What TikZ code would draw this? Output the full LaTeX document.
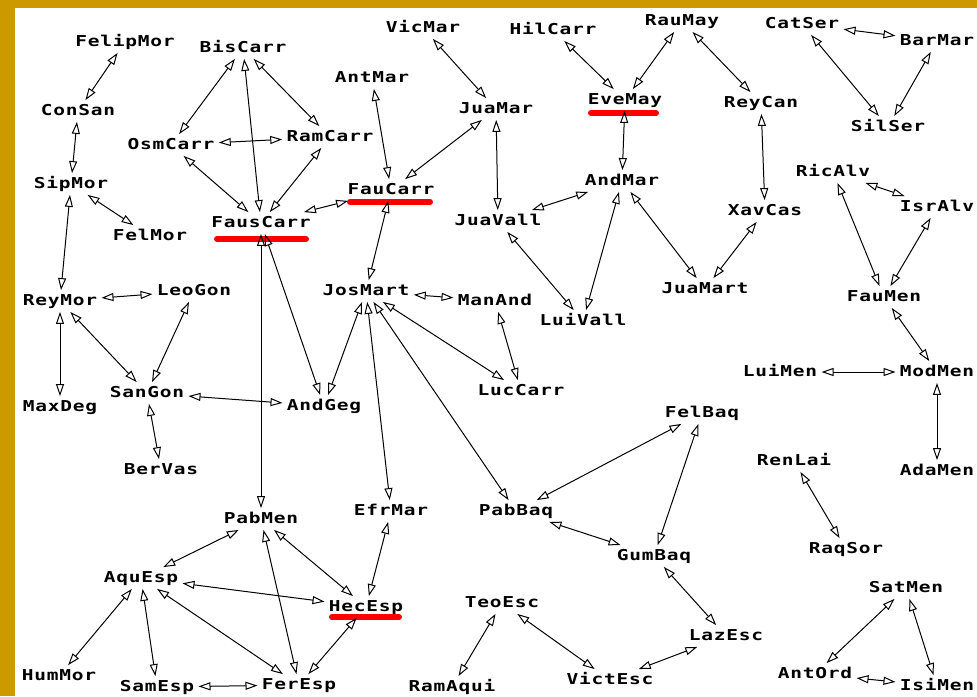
\documentclass[tikz,border=0pt]{standalone}
\usepackage{fontspec}
\usepackage{tikz}
\usetikzlibrary{arrows.meta,calc}
\newfontfamily\pixfont[FakeStretch=1.3,LetterSpace=5]{DejaVu Sans Mono Bold}
\definecolor{framegold}{RGB}{204,153,0}
\definecolor{markred}{RGB}{250,0,0}
\tikzset{
  person/.style={font=\pixfont\fontsize{7.5}{9}\selectfont,inner sep=2pt,
    text height=5.5pt,text depth=1pt},
  link/.style={{Triangle[open,length=6pt,width=4pt]}-{Triangle[open,length=6pt,width=4pt]},
    line width=0.5pt,draw=black},
  redbar/.style={draw=markred,line width=3pt,line cap=round}
}

\begin{document}
\begin{tikzpicture}[x=0.5pt,y=-0.5pt]
  \useasboundingbox (0,0) rectangle (977,696);
  \fill[framegold] (0,0) rectangle (977,696);
  \fill[white] (15,8) rectangle (977,696);

  \node[person] (FelipMor) at (125,42) {FelipMor};
  \node[person] (BisCarr) at (243,48) {BisCarr};
  \node[person] (ConSan) at (78,111) {ConSan};
  \node[person] (OsmCarr) at (171,145) {OsmCarr};
  \node[person] (RamCarr) at (330,137) {RamCarr};
  \node[person] (SipMor) at (71,184) {SipMor};
  \node[person] (FelMor) at (150,236) {FelMor};
  \node[person] (FausCarr) at (261,223) {FausCarr};
  \node[person] (AntMar) at (372,78) {AntMar};
  \node[person] (VicMar) at (423,28) {VicMar};
  \node[person] (JuaMar) at (496,109) {JuaMar};
  \node[person] (FauCarr) at (391,190) {FauCarr};
  \node[person] (HilCarr) at (553,30) {HilCarr};
  \node[person] (EveMay) at (625,100) {EveMay};
  \node[person] (RauMay) at (682,21) {RauMay};
  \node[person] (ReyCan) at (761,103) {ReyCan};
  \node[person] (CatSer) at (802,24) {CatSer};
  \node[person] (BarMar) at (937,41) {BarMar};
  \node[person] (SilSer) at (888,127) {SilSer};
  \node[person] (AndMar) at (622,181) {AndMar};
  \node[person] (JuaVall) at (498,221) {JuaVall};
  \node[person] (XavCas) at (765,211) {XavCas};
  \node[person] (RicAlv) at (833,172) {RicAlv};
  \node[person] (IsrAlv) at (937,207) {IsrAlv};
  \node[person] (JuaMart) at (705,289) {JuaMart};
  \node[person] (FauMen) at (884,297) {FauMen};
  \node[person] (LuiVall) at (583,321) {LuiVall};
  \node[person] (JosMart) at (366,291) {JosMart};
  \node[person] (ManAnd) at (495,301) {ManAnd};
  \node[person] (ReyMor) at (60,301) {ReyMor};
  \node[person] (LeoGon) at (194,291) {LeoGon};
  \node[person] (SanGon) at (147,393) {SanGon};
  \node[person] (MaxDeg) at (60,407) {MaxDeg};
  \node[person] (AndGeg) at (324,406) {AndGeg};
  \node[person] (LucCarr) at (521,391) {LucCarr};
  \node[person] (LuiMen) at (780,372) {LuiMen};
  \node[person] (ModMen) at (937,372) {ModMen};
  \node[person] (BerVas) at (161,470) {BerVas};
  \node[person] (FelBaq) at (702,413) {FelBaq};
  \node[person] (RenLai) at (794,461) {RenLai};
  \node[person] (AdaMen) at (937,471) {AdaMen};
  \node[person] (PabMen) at (261,519) {PabMen};
  \node[person] (EfrMar) at (391,511) {EfrMar};
  \node[person] (PabBaq) at (516,511) {PabBaq};
  \node[person] (GumBaq) at (654,556) {GumBaq};
  \node[person] (RaqSor) at (846,549) {RaqSor};
  \node[person] (AquEsp) at (141,578) {AquEsp};
  \node[person] (HecEsp) at (366,607) {HecEsp};
  \node[person] (TeoEsc) at (502,603) {TeoEsc};
  \node[person] (SatMen) at (906,588) {SatMen};
  \node[person] (LazEsc) at (726,636) {LazEsc};
  \node[person] (HumMor) at (59,676) {HumMor};
  \node[person] (SamEsp) at (157,687) {SamEsp};
  \node[person] (FerEsp) at (299,685) {FerEsp};
  \node[person] (RamAqui) at (452,687) {RamAqui};
  \node[person] (VictEsc) at (610,680) {VictEsc};
  \node[person] (AntOrd) at (815,674) {AntOrd};
  \node[person] (IsiMen) at (937,686) {IsiMen};

  \draw[redbar] ($(FausCarr)+(-44,16)$) -- ($(FausCarr)+(45,16)$);
  \draw[redbar] ($(FauCarr)+(-41,12)$) -- ($(FauCarr)+(39,12)$);
  \draw[redbar] ($(EveMay)+(-34,13)$) -- ($(EveMay)+(31,13)$);
  \draw[redbar] ($(HecEsp)+(-34,10)$) -- ($(HecEsp)+(33,10)$);

  \draw[link] (FelipMor) -- (ConSan);
  \draw[link] (ConSan) -- (SipMor);
  \draw[link] (SipMor) -- (ReyMor);
  \draw[link] (SipMor) -- (FelMor);
  \draw[link] (BisCarr) -- (OsmCarr);
  \draw[link] (BisCarr) -- (FausCarr);
  \draw[link] (BisCarr) -- (RamCarr);
  \draw[link] (OsmCarr) -- (RamCarr);
  \draw[link] (OsmCarr) -- (FausCarr);
  \draw[link] (RamCarr) -- (FausCarr);
  \draw[link] (FausCarr) -- (FauCarr);
  \draw[link] (AntMar) -- (FauCarr);
  \draw[link] (JuaMar) -- (FauCarr);
  \draw[link] (VicMar) -- (JuaMar);
  \draw[link] (JuaMar) -- (JuaVall);
  \draw[link] (HilCarr) -- (EveMay);
  \draw[link] (RauMay) -- (EveMay);
  \draw[link] (RauMay) -- (ReyCan);
  \draw[link] (EveMay) -- (AndMar);
  \draw[link] (ReyCan) -- (XavCas);
  \draw[link] (CatSer) -- (BarMar);
  \draw[link] (CatSer) -- (SilSer);
  \draw[link] (BarMar) -- (SilSer);
  \draw[link] (AndMar) -- (JuaVall);
  \draw[link] (AndMar) -- (LuiVall);
  \draw[link] (AndMar) -- (JuaMart);
  \draw[link] (XavCas) -- (JuaMart);
  \draw[link] (JuaVall) -- (LuiVall);
  \draw[link] (RicAlv) -- (IsrAlv);
  \draw[link] (RicAlv) -- (FauMen);
  \draw[link] (IsrAlv) -- (FauMen);
  \draw[link] (FauMen) -- (ModMen);
  \draw[link] (LuiMen) -- (ModMen);
  \draw[link] (ModMen) -- (AdaMen);
  \draw[link] (FauCarr) -- (JosMart);
  \draw[link] (JosMart) -- (ManAnd);
  \draw[link] (ManAnd) -- (LucCarr);
  \draw[link] (JosMart) -- (LucCarr);
  \draw[link] (JosMart) -- (AndGeg);
  \draw[link] (FausCarr) -- (AndGeg);
  \draw[link] (FausCarr) -- (PabMen);
  \draw[link] (JosMart) -- (EfrMar);
  \draw[link] (JosMart) -- (PabBaq);
  \draw[link] (ReyMor) -- (LeoGon);
  \draw[link] (ReyMor) -- (MaxDeg);
  \draw[link] (ReyMor) -- (SanGon);
  \draw[link] (LeoGon) -- (SanGon);
  \draw[link] (SanGon) -- (AndGeg);
  \draw[link] (SanGon) -- (BerVas);
  \draw[link] (FelBaq) -- (PabBaq);
  \draw[link] (FelBaq) -- (GumBaq);
  \draw[link] (PabBaq) -- (GumBaq);
  \draw[link] (GumBaq) -- (LazEsc);
  \draw[link] (LazEsc) -- (VictEsc);
  \draw[link] (RenLai) -- (RaqSor);
  \draw[link] (SatMen) -- (AntOrd);
  \draw[link] (SatMen) -- (IsiMen);
  \draw[link] (AntOrd) -- (IsiMen);
  \draw[link] (PabMen) -- (AquEsp);
  \draw[link] (PabMen) -- (FerEsp);
  \draw[link] (PabMen) -- (HecEsp);
  \draw[link] (AquEsp) -- (HecEsp);
  \draw[link] (AquEsp) -- (HumMor);
  \draw[link] (AquEsp) -- (SamEsp);
  \draw[link] (AquEsp) -- (FerEsp);
  \draw[link] (SamEsp) -- (FerEsp);
  \draw[link] (HecEsp) -- (FerEsp);
  \draw[link] (EfrMar) -- (HecEsp);
  \draw[link] (TeoEsc) -- (RamAqui);
  \draw[link] (TeoEsc) -- (VictEsc);
\end{tikzpicture}
\end{document}
